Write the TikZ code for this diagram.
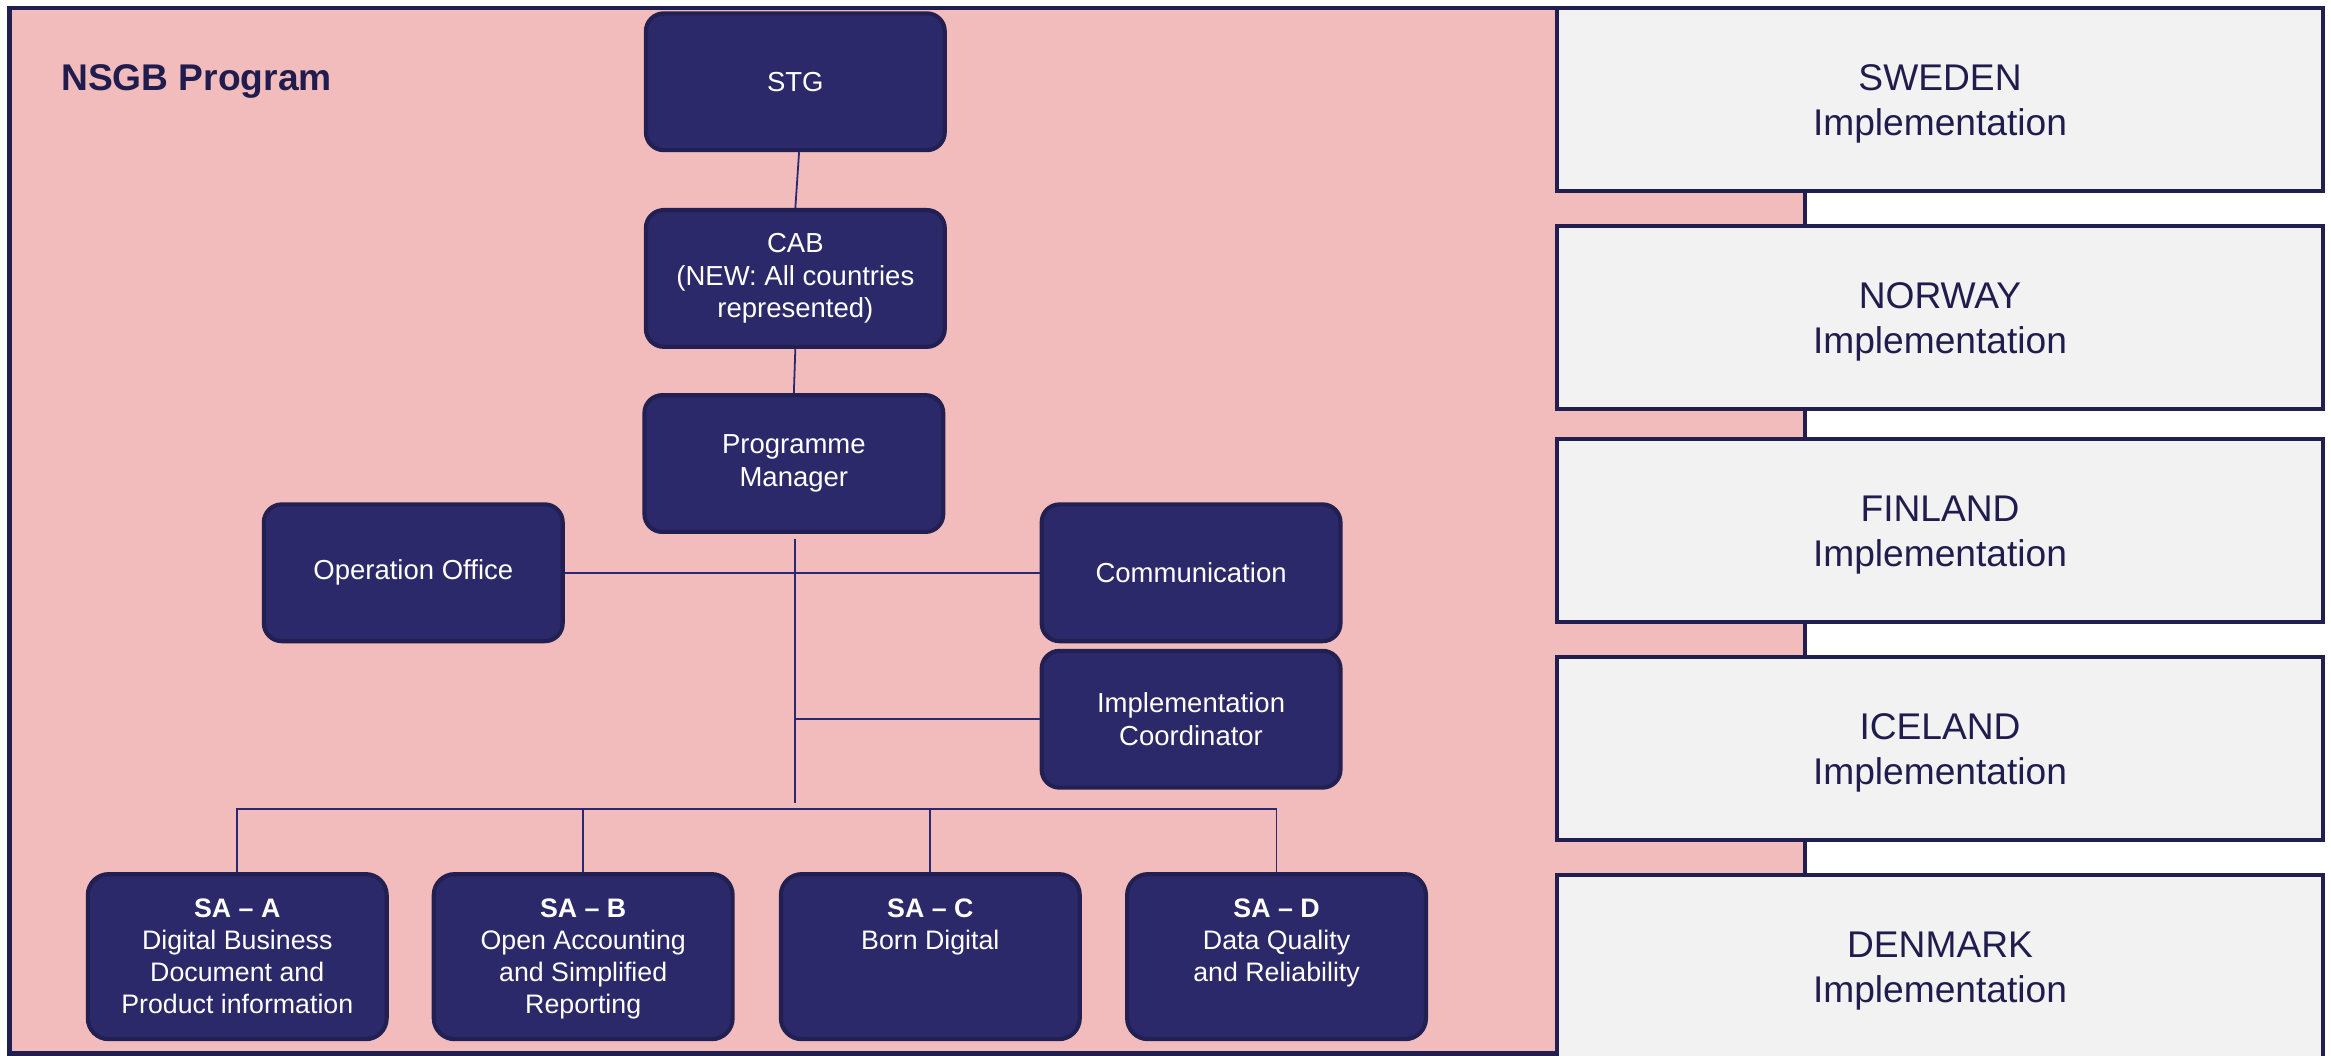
\documentclass[tikz,border=0pt]{standalone}
\usepackage{fontspec}
\setmainfont{Liberation Sans}
\definecolor{pinkbg}{RGB}{242,188,189}
\definecolor{frameedge}{RGB}{33,30,80}
\definecolor{navyfill}{RGB}{44,41,106}
\definecolor{navyedge}{RGB}{34,31,82}
\definecolor{greyfill}{RGB}{242,242,242}
\definecolor{navytext}{RGB}{32,29,78}
\definecolor{connc}{RGB}{42,40,112}
\newcommand\topfix{\rule{0pt}{23.5pt}}
\newcommand\satext[2]{\parbox[c][78pt][t]{200pt}{\centering\fontsize{18}{21.5}\selectfont\textbf{#1}\\#2}}
\begin{document}
\begin{tikzpicture}[x=1pt,y=-1pt,
  navybox/.style={rectangle, rounded corners=12pt, fill=navyfill, draw=navyedge,
    line width=2.8pt, text=white, minimum width=201pt, minimum height=92pt,
    inner sep=0pt, align=center, font={\fontsize{18.5}{22}\selectfont}},
  sabox/.style={navybox, rounded corners=14pt, minimum height=111pt},
  country/.style={rectangle, fill=greyfill, draw=frameedge, line width=2.8pt,
    text=navytext, minimum width=515pt, minimum height=123pt, inner sep=0pt,
    align=center, font={\fontsize{25}{30}\selectfont}},
  titletext/.style={anchor=base west, inner sep=0pt, text=navytext,
    font={\bfseries\fontsize{25}{30}\selectfont}},
  conn/.style={draw=connc, line width=1.2pt}]
\useasboundingbox (0,0) rectangle (1568,709.67);
% programme frame
\draw[fill=pinkbg, draw=frameedge, line width=3pt] (6.3,5.4) rectangle (1214,708.5);
\node[titletext] (title) at (41,61) {NSGB Program};
% country implementation boxes
\node[country] (se) at (1305,66.85) {\topfix SWEDEN\\Implementation};
\node[country] (no) at (1305,213.5) {\topfix NORWAY\\Implementation};
\node[country] (fi) at (1305,356.8) {\topfix FINLAND\\Implementation};
\node[country] (is) at (1305,503.5) {\topfix ICELAND\\Implementation};
\node[country] (dk) at (1305,650.1) {\topfix DENMARK\\Implementation};
% organisation
\node[navybox] (stg) at (535,55) {STG};
\node[navybox] (cab) at (535,187.3) {CAB\\(NEW: All countries\\represented)};
\node[navybox] (pm) at (534,311.8) {Programme\\Manager};
\node[navybox] (op) at (278,385.3) {Operation Office};
\node[navybox] (comm) at (801.2,385.3) {Communication};
\node[navybox] (impl) at (801.2,483.8) {Implementation\\Coordinator};
\node[sabox] (saa) at (159.6,643.5) {\satext{SA – A}{Digital Business\\Document and\\Product information}};
\node[sabox] (sab) at (392.3,643.5) {\satext{SA – B}{Open Accounting\\and Simplified\\Reporting}};
\node[sabox] (sac) at (625.8,643.5) {\satext{SA – C}{Born Digital}};
\node[sabox] (sad) at (858.7,643.5) {\satext{SA – D}{Data Quality\\and Reliability}};
% connectors
\draw[conn] ([xshift=2.5pt]stg.south) -- (cab.north);
\draw[conn] (cab.south) -- (pm.north);
\coordinate (ttop) at ([xshift=1pt,yshift=-3.5pt]pm.south);
\coordinate (tbot) at (ttop |- 0,540.4);
\draw[conn] (ttop) -- (tbot);
\draw[conn] (op.east) -- (op.east -| ttop);
\draw[conn] (comm.west) -- (comm.west -| ttop);
\draw[conn] (impl.west) -- (impl.west -| ttop);
\coordinate (bus) at (0,544.2);
\draw[conn] (saa.north) -- (saa.north |- bus) -- (sad.north |- bus) -- (sad.north);
\draw[conn] (sab.north) -- (sab.north |- bus);
\draw[conn] (sac.north) -- (sac.north |- bus);
\end{tikzpicture}
\end{document}
